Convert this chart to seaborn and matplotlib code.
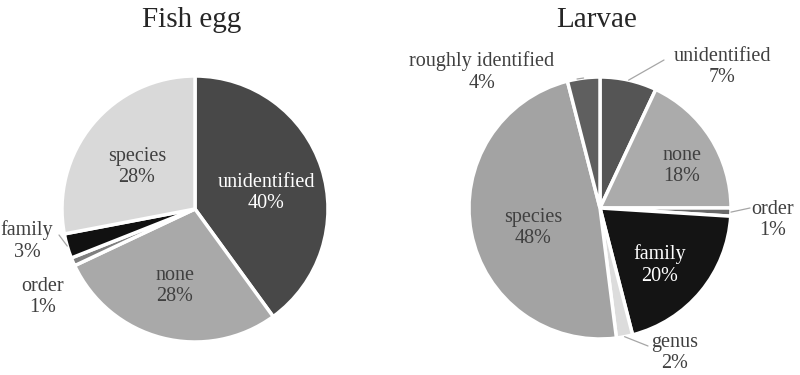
import matplotlib
matplotlib.use("Agg")
import matplotlib.pyplot as plt
import seaborn as sns
import numpy as np

# ---- data ----
egg_labels = ["unidentified", "none", "order", "family", "species"]
egg_values = [40, 28, 1, 3, 28]

larvae_labels = ["unidentified", "none", "order", "family", "genus", "species", "roughly identified"]
larvae_values = [7, 18, 1, 20, 2, 48, 4]

titles = ["Fish egg", "Larvae"]

# ---- style ----
egg_colors = ["#484848", "#a9a9a9", "#7f7f7f", "#111111", "#d9d9d9"]
larvae_colors = ["#555555", "#ababab", "#6a6a6a", "#141414", "#dcdcdc", "#a3a3a3", "#5f5f5f"]

sns.set_theme(style="white")
plt.rcParams["font.family"] = ["Liberation Serif", "DejaVu Serif"]

W, H = 800, 375
fig = plt.figure(figsize=(8, 3.75), dpi=100)
ax = fig.add_axes([0, 0, 1, 1])

# layout (pixels, image coords from top-left)
egg_center = (195, 209)
larvae_center = (600, 208)
egg_radius = 133
larvae_radius = 131

# label layout: offset of text center from pie center (dx, dy up), text color,
# optional leader-line end offset
egg_layout = {
    "unidentified": ((71, 16), "white", None),
    "none": ((-20, -77), "#404040", None),
    "species": ((-58, 42), "#404040", None),
    "family": ((-168, -32), "#404040", (-136, -26)),
    "order": ((-152, -88), "#404040", None),
}
larvae_layout = {
    "unidentified": ((122, 141), "#404040", (64, 148)),
    "none": ((82, 42), "#404040", None),
    "order": ((173, -12), "#404040", (150, 0)),
    "family": ((60, -57), "white", None),
    "genus": ((75, -145), "#404040", (48, -138)),
    "species": ((-67, -20), "#404040", None),
    "roughly identified": ((-118, 136), "#404040", (-23, 129)),
}


def draw_pie(values, labels, colors, center_img, radius, layout, title):
    cx, cy = center_img[0], H - center_img[1]
    wedges, _ = ax.pie(values, colors=colors, startangle=90, counterclock=False,
                       center=(cx, cy), radius=radius,
                       wedgeprops=dict(edgecolor="white", linewidth=2.5))
    for w, lab, v in zip(wedges, labels, values):
        (dx, dy), tc, lead = layout[lab]
        ax.text(cx + dx, cy + dy, f"{lab}\n{v}%", ha="center", va="center",
                fontsize=14.5, color=tc, linespacing=1.15)
        if lead is not None:
            mid = np.deg2rad((w.theta1 + w.theta2) / 2)
            x0 = cx + radius * np.cos(mid)
            y0 = cy + radius * np.sin(mid)
            ax.plot([x0, cx + lead[0]], [y0, cy + lead[1]], color="#a6a6a6", lw=0.9)
    ax.text(center_img[0] - 3, H - 20, title, ha="center", va="center", fontsize=21, color="#262626")


draw_pie(egg_values, egg_labels, egg_colors, egg_center, egg_radius, egg_layout, titles[0])
draw_pie(larvae_values, larvae_labels, larvae_colors, larvae_center, larvae_radius, larvae_layout, titles[1])

ax.set_xlim(0, W)
ax.set_ylim(0, H)
ax.set_aspect("equal")
ax.axis("off")

fig.savefig("out.png", dpi=100, facecolor="white")
